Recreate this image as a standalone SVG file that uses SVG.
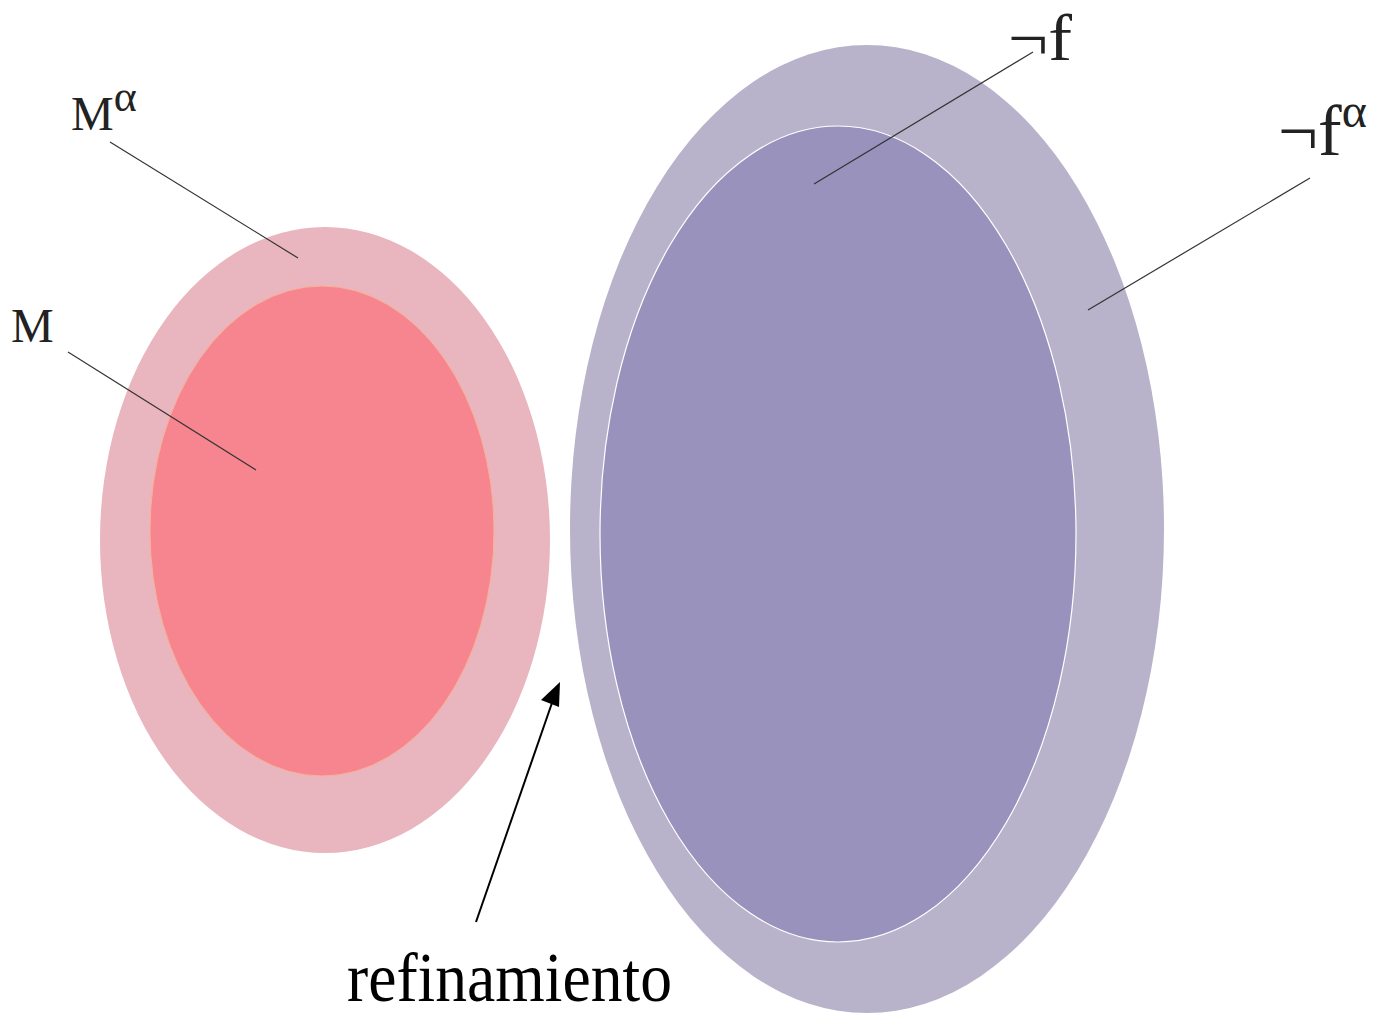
<svg xmlns="http://www.w3.org/2000/svg" width="1376" height="1014" viewBox="0 0 1376 1014">
<style>
.lead{stroke:#333;stroke-width:1.2;fill:none;}
</style>
<rect width="1376" height="1014" fill="#fff"/>
<g id="M-alpha"><ellipse cx="325" cy="540" rx="225" ry="313" fill="#e9b5be"/></g>
<g id="M"><ellipse cx="322" cy="531" rx="172" ry="245" fill="#f7858f" stroke="#f8b295" stroke-width="1"/></g>
<g id="notf-alpha"><ellipse cx="867" cy="529" rx="297" ry="484" fill="#b8b3ca"/></g>
<g id="notf"><ellipse cx="838" cy="534" rx="238" ry="408" fill="#9892bd" stroke="#fff" stroke-width="1.2"/></g>
<g id="connectors">
<line class="lead" x1="110" y1="142" x2="298" y2="258"/>
<line class="lead" x1="68" y1="352" x2="256" y2="470"/>
<line class="lead" x1="1033" y1="52" x2="814" y2="184"/>
<line class="lead" x1="1310" y1="178" x2="1088" y2="310"/>
<line x1="476" y1="922" x2="553" y2="700" stroke="#000" stroke-width="2"/>
<path d="M560,682 L559,707 L541,700 z" fill="#000"/>
</g>
<g id="labels" font-family="'Liberation Serif', 'Times New Roman', Times, serif" fill="#222">
<text x="71" y="130" font-size="48">M<tspan font-size="44" dy="-19">α</tspan></text>
<text x="11" y="342" font-size="48">M</text>
<text x="1008" y="60" font-size="66" textLength="64" lengthAdjust="spacingAndGlyphs">¬f</text>
<text x="1278" y="155" font-size="71">¬f<tspan font-size="48" dy="-28">α</tspan></text>
<text x="347" y="1001" font-size="69" fill="#000" textLength="325" lengthAdjust="spacingAndGlyphs">refinamiento</text>
</g>
</svg>
